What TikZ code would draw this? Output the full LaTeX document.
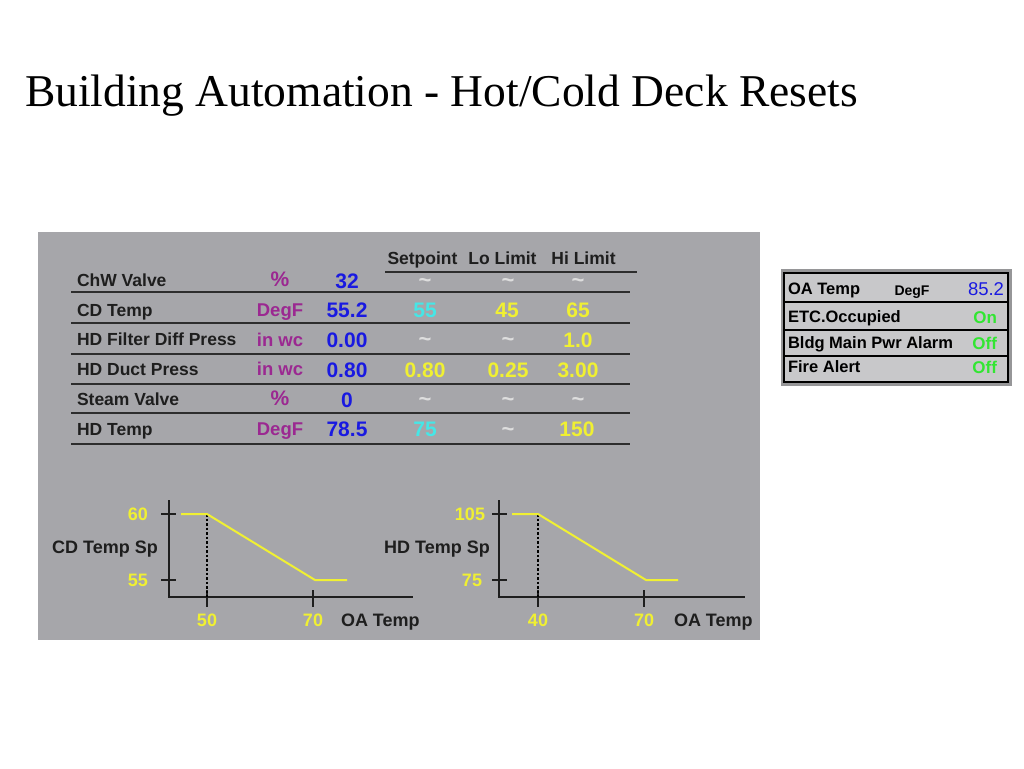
\documentclass[tikz,border=0pt]{standalone}
\usepackage{fontspec}
\setmainfont{Liberation Serif}
\newfontfamily\arial{Liberation Sans}
\definecolor{panelgray}{RGB}{166,166,170}
\definecolor{framegray}{RGB}{150,150,152}
\definecolor{boxfill}{RGB}{200,200,202}
\definecolor{dark}{RGB}{30,30,30}
\definecolor{rulec}{RGB}{45,45,45}
\definecolor{valblue}{RGB}{25,25,225}
\definecolor{unitpurple}{RGB}{155,40,145}
\definecolor{yel}{RGB}{240,240,50}
\definecolor{cyn}{RGB}{70,230,230}
\definecolor{grn}{RGB}{50,230,50}
\definecolor{tild}{RGB}{222,222,222}
\newcommand{\px}[1]{\fontsize{#1}{#1}\selectfont}
\newcommand{\tl}{\textasciitilde}
\begin{document}
\begin{tikzpicture}[x=1pt,y=-1pt,
  every node/.style={inner sep=0pt, outer sep=0pt},
  txt/.style={text height=#1, text depth=0pt},
  lab/.style={txt=12.5pt, anchor=west, text=dark, font=\arial\bfseries\px{17.5}},
  hdr/.style={txt=12.5pt, text=dark, font=\arial\bfseries\px{17.5}},
  unit/.style={txt=13.2pt, text=unitpurple, font=\arial\bfseries\px{18.5}},
  pct/.style={txt=15pt, text=unitpurple, font=\arial\bfseries\px{21}},
  val/.style={txt=15pt, text=valblue, font=\arial\bfseries\px{21}},
  ylw/.style={txt=15pt, text=yel, font=\arial\bfseries\px{21}},
  cyv/.style={txt=15pt, text=cyn, font=\arial\bfseries\px{21}},
  tld/.style={txt=15.5pt, text=tild, font=\arial\bfseries\px{22}},
  glab/.style={txt=12.9pt, text=dark, font=\arial\bfseries\px{18}},
  gnum/.style={txt=12.9pt, text=yel, font=\arial\bfseries\px{18}},
  blab/.style={txt=11.8pt, anchor=west, text=black, font=\arial\bfseries\px{16.5}},
  bon/.style={txt=12.2pt, anchor=east, text=grn, font=\arial\bfseries\px{17}},
  rulel/.style={draw=rulec, line width=2pt},
  axis/.style={draw=dark, line width=1.8pt},
  curve/.style={draw=yel, line width=2pt, line join=round},
  guide/.style={draw=black, line width=1.3pt, dash pattern=on 2.5pt off 2pt}
]
\useasboundingbox (0,0) rectangle (1024,768);
\fill[white] (0,0) rectangle (1024,768);

% title
\node[anchor=base west, font=\px{45.5}] (title) at (25,106) {Building Automation - Hot/Cold Deck Resets};

% panel
\fill[panelgray] (38,232) rectangle (760,640);

% header
\node[hdr] (hsp) at (422.5,258.5) {Setpoint};
\node[hdr] (hlo) at (502.5,258.5) {Lo Limit};
\node[hdr] (hhi) at (583.5,258.5) {Hi Limit};
\draw[rulel] (385,272) -- (637,272);

% rules
\foreach \yy in {292,323,354,384,413,444} \draw[rulel] (71,\yy) -- (630,\yy);

% row 1
\node[lab] (l1) at (77,280) {ChW Valve};
\node[pct] (u1) at (280,279) {\%};
\node[val] (v1) at (347,281) {32};
\node[tld] (s1) at (425,280) {\tl};
\node[tld] (o1) at (508,280) {\tl};
\node[tld] (h1) at (578,280) {\tl};
% row 2
\node[lab] (l2) at (77,310) {CD Temp};
\node[unit] (u2) at (280,310) {DegF};
\node[val] (v2) at (347,310) {55.2};
\node[cyv] (s2) at (425,310) {55};
\node[ylw] (o2) at (507,310) {45};
\node[ylw] (h2) at (578,310) {65};
% row 3
\node[lab] (l3) at (77,339) {HD Filter Diff Press};
\node[unit] (u3) at (280,340) {in wc};
\node[val] (v3) at (347,340) {0.00};
\node[tld] (s3) at (425,339) {\tl};
\node[tld] (o3) at (508,339) {\tl};
\node[ylw] (h3) at (578,340) {1.0};
% row 4
\node[lab] (l4) at (77,369) {HD Duct Press};
\node[unit] (u4) at (280,369) {in wc};
\node[val] (v4) at (347,370) {0.80};
\node[ylw] (s4) at (425,370) {0.80};
\node[ylw] (o4) at (508,370) {0.25};
\node[ylw] (h4) at (578,370) {3.00};
% row 5
\node[lab] (l5) at (77,399) {Steam Valve};
\node[pct] (u5) at (280,398) {\%};
\node[val] (v5) at (347,400) {0};
\node[tld] (s5) at (425,399) {\tl};
\node[tld] (o5) at (508,399) {\tl};
\node[tld] (h5) at (578,399) {\tl};
% row 6
\node[lab] (l6) at (77,429) {HD Temp};
\node[unit] (u6) at (280,429) {DegF};
\node[val] (v6) at (347,429) {78.5};
\node[cyv] (s6) at (425,429) {75};
\node[tld] (o6) at (508,429) {\tl};
\node[ylw] (h6) at (577,429) {150};

% graph 1
\coordinate (g1top) at (169,500);
\coordinate (g1o) at (169,597);
\coordinate (g1end) at (413,597);
\draw[axis] (g1top) -- (g1o) -- (g1end);
\draw[axis] (161,514) -- (176,514);
\draw[axis] (161,580) -- (176,580);
\draw[axis] (207,590) -- (207,607);
\draw[axis] (313,590) -- (313,607);
\coordinate (g1a) at (181,514);
\coordinate (g1b) at (207,514);
\coordinate (g1c) at (315,580);
\coordinate (g1d) at (347,580);
\coordinate (g1x) at (207,597);
\draw[guide] (g1b) -- (g1x);
\draw[curve] (g1a) -- (g1b) -- (g1c) -- (g1d);
\node[gnum] (g1y60) at (138,514) {60};
\node[gnum] (g1y55) at (138,580) {55};
\node[glab] (g1ylab) at (105,547) {CD Temp Sp};
\node[gnum] (g1x50) at (207,620) {50};
\node[gnum] (g1x70) at (313,620) {70};
\node[glab, anchor=west] (g1xlab) at (341,620) {OA Temp};

% graph 2
\coordinate (g2top) at (499,500);
\coordinate (g2o) at (499,597);
\coordinate (g2end) at (745,597);
\draw[axis] (g2top) -- (g2o) -- (g2end);
\draw[axis] (492,514) -- (507,514);
\draw[axis] (492,580) -- (507,580);
\draw[axis] (538,590) -- (538,607);
\draw[axis] (644,590) -- (644,607);
\coordinate (g2a) at (512,514);
\coordinate (g2b) at (538,514);
\coordinate (g2c) at (646,580);
\coordinate (g2d) at (678,580);
\coordinate (g2x) at (538,597);
\draw[guide] (g2b) -- (g2x);
\draw[curve] (g2a) -- (g2b) -- (g2c) -- (g2d);
\node[gnum] (g2y105) at (470,514) {105};
\node[gnum] (g2y75) at (472,580) {75};
\node[glab] (g2ylab) at (437,547) {HD Temp Sp};
\node[gnum] (g2x40) at (538,620) {40};
\node[gnum] (g2x70) at (644,620) {70};
\node[glab, anchor=west] (g2xlab) at (674,620) {OA Temp};

% status box
\fill[framegray] (781,269) rectangle (1012,386);
\filldraw[fill=boxfill, draw=black, line width=2pt] (784,273) rectangle (1008,382);
\foreach \yy in {302,330,356} \draw[black, line width=1.6pt] (784,\yy) -- (1008,\yy);
\node[blab] (b1) at (788,289) {OA Temp};
\node[txt=10pt, text=black, font=\arial\bfseries\px{14}] (b1u) at (912,290) {DegF};
\node[txt=13.2pt, anchor=east, text=valblue, font=\arial\px{18.5}] (b1v) at (1004,289) {85.2};
\node[blab] (b2) at (788,317) {ETC.Occupied};
\node[bon] (b2v) at (997,317) {On};
\node[blab] (b3) at (788,343) {Bldg Main Pwr Alarm};
\node[bon] (b3v) at (997,343) {Off};
\node[blab] (b4) at (788,367) {Fire Alert};
\node[bon] (b4v) at (997,367) {Off};
\end{tikzpicture}
\end{document}
